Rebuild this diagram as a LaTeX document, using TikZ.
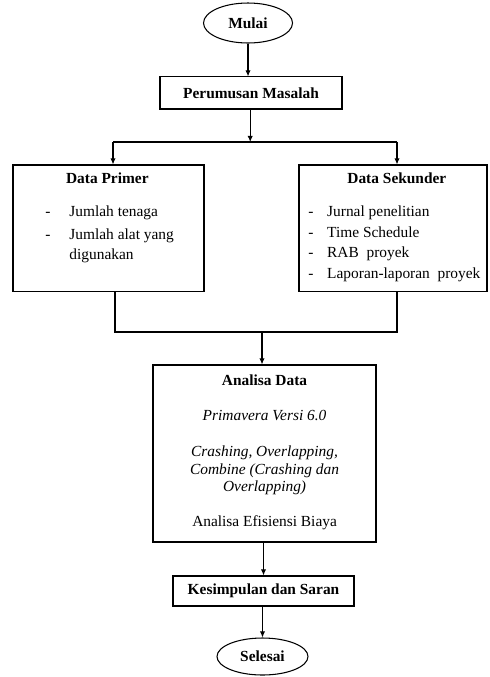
\documentclass[tikz,border=0pt]{standalone}
\usepackage{fontspec}
\setmainfont{Liberation Serif}
\usetikzlibrary{shapes.geometric,arrows.meta}

\begin{document}
\begin{tikzpicture}[
  font=\fontsize{11.6}{14}\selectfont,
  box/.style={draw, line width=0.8pt, rectangle, inner sep=0pt},
  term/.style={draw, line width=0.8pt, ellipse, inner sep=0pt, font=\fontsize{11.6}{14}\selectfont\bfseries},
  arr/.style={line width=0.8pt, -{Latex[length=1.6mm,width=1.4mm]}},
  line/.style={line width=0.8pt},
  txt/.style={inner sep=0pt, anchor=base},
  item/.style={inner sep=0pt, anchor=base west}
]
\useasboundingbox (0,0) rectangle (12.938,17.912);

\node [term, minimum width=2.355cm, minimum height=1.058cm] (mulai) at (6.562,17.303) {Mulai};
\node [box, minimum width=4.815cm, minimum height=0.847cm, font=\fontsize{11.6}{14}\selectfont\bfseries] (rumusan) at (6.641,15.452) {Perumusan Masalah};

\node [box, minimum width=5.054cm, minimum height=3.360cm] (primer) at (2.871,11.867) {};
\node [box, minimum width=4.974cm, minimum height=3.360cm] (sekunder) at (10.398,11.867) {};
\node [box, minimum width=5.900cm, minimum height=4.683cm] (analisa) at (6.998,5.913) {};
\node [box, minimum width=4.789cm, minimum height=0.794cm, font=\fontsize{11.6}{14}\selectfont\bfseries] (simpulan) at (6.972,2.275) {Kesimpulan dan Saran};
\node [term, minimum width=2.408cm, minimum height=0.979cm] (selesai) at (6.945,0.542) {Selesai};

% data primer
\node [txt, font=\fontsize{11.6}{14}\selectfont\bfseries] (primerT) at (2.84,13.05) {Data Primer};
\node [txt] (primerD1) at (1.27,12.18) {-};
\node [item] (primer1) at (1.83,12.18) {Jumlah tenaga};
\node [txt] (primerD2) at (1.27,11.57) {-};
\node [item] (primer2) at (1.83,11.57) {Jumlah alat yang};
\node [item] (primer3) at (1.83,11.04) {digunakan};

% data sekunder
\node [txt, font=\fontsize{11.6}{14}\selectfont\bfseries] (sekunderT) at (10.50,13.05) {Data Sekunder};
\node [txt] (sekunderD1) at (8.23,12.18) {-};
\node [item] (sekunder1) at (8.65,12.18) {Jurnal penelitian};
\node [txt] (sekunderD2) at (8.23,11.63) {-};
\node [item] (sekunder2) at (8.65,11.63) {Time Schedule};
\node [txt] (sekunderD3) at (8.23,11.09) {-};
\node [item] (sekunder3) at (8.65,11.09) {RAB~~proyek};
\node [txt] (sekunderD4) at (8.23,10.54) {-};
\node [item] (sekunder4) at (8.65,10.54) {Laporan-laporan~~proyek};

% analisa data
\node [txt, font=\fontsize{11.6}{14}\selectfont\bfseries] (analisaT) at (7.00,7.71) {Analisa Data};
\node [txt, font=\fontsize{11.6}{14}\selectfont\itshape] (analisa1) at (7.00,6.78) {Primavera Versi 6.0};
\node [txt, font=\fontsize{11.6}{14}\selectfont\itshape] (analisa2) at (7.00,5.83) {Crashing, Overlapping,};
\node [txt, font=\fontsize{11.6}{14}\selectfont\itshape] (analisa3) at (7.00,5.37) {Combine (Crashing dan};
\node [txt, font=\fontsize{11.6}{14}\selectfont\itshape] (analisa4) at (7.00,4.90) {Overlapping)};
\node [txt] (analisa5) at (7.00,3.97) {Analisa Efisiensi Biaya};

\coordinate (pecahL) at (2.990,14.155);
\coordinate (pecahR) at (10.504,14.155);
\coordinate (pecahM) at (6.620,14.155);
\coordinate (gabungL) at (3.043,9.128);
\coordinate (gabungR) at (10.504,9.128);
\coordinate (gabungM) at (6.932,9.128);

\draw [arr] (mulai.south) -- (mulai.south |- rumusan.north);
\draw [arr] (rumusan.south -| pecahM) -- (pecahM);
\draw [line] (pecahL) -- (pecahR);
\draw [arr] (pecahL) -- (pecahL |- primer.north);
\draw [arr] (pecahR) -- (pecahR |- sekunder.north);
\draw [line] (primer.south -| gabungL) -- (gabungL) -- (gabungR) -- (sekunder.south -| gabungR);
\draw [arr] (gabungM) -- (gabungM |- analisa.north);
\draw [arr] (analisa.south -| simpulan.north) -- (simpulan.north);
\draw [arr] (simpulan.south -| selesai.north) -- (selesai.north);
\end{tikzpicture}
\end{document}
